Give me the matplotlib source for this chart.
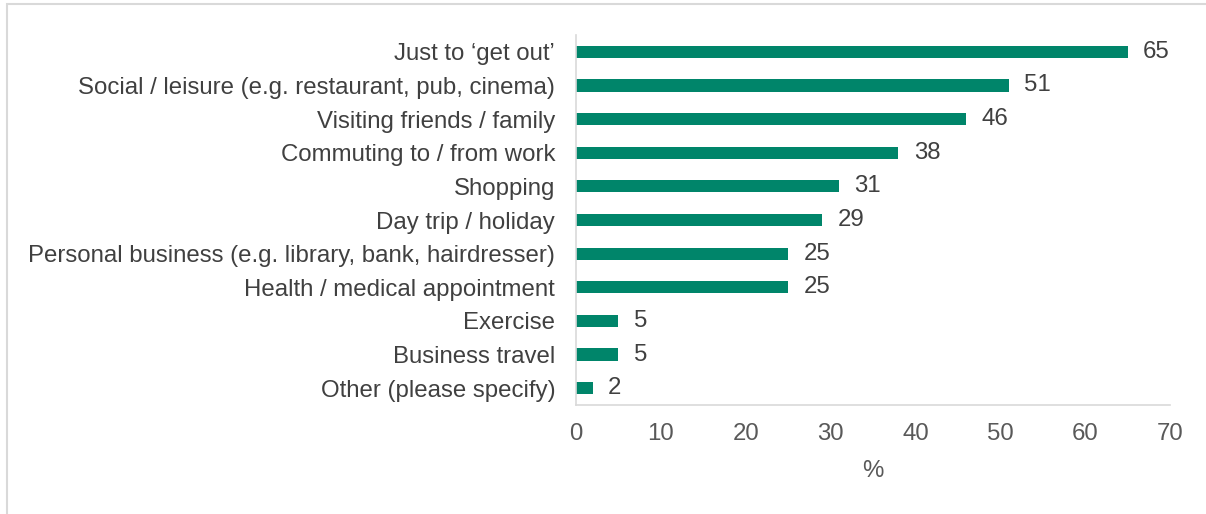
import matplotlib
matplotlib.use("Agg")
import matplotlib.pyplot as plt
from matplotlib.patches import Rectangle

categories = [
    "Just to \u2018get out\u2019",
    "Social / leisure (e.g. restaurant, pub, cinema)",
    "Visiting friends / family",
    "Commuting to / from work",
    "Shopping",
    "Day trip / holiday",
    "Personal business (e.g. library, bank, hairdresser)",
    "Health / medical appointment",
    "Exercise",
    "Business travel",
    "Other (please specify)",
]
values = [65, 51, 46, 38, 31, 29, 25, 25, 5, 5, 2]
xticks = [0, 10, 20, 30, 40, 50, 60, 70]

plt.rcParams['font.family'] = ['Liberation Sans', 'DejaVu Sans']
FS = 17.3

fig = plt.figure(figsize=(12.06, 5.14), dpi=100)
ax = fig.add_axes([576/1206, 1-405/514, (1170-576)/1206, (405-35)/514])

ypos = list(range(len(categories)))
ax.barh(ypos, values, height=0.36, color='#00856A')
for y, v in zip(ypos, values):
    ax.text(v + 1.8, y, str(v), va='center', ha='left', fontsize=FS, color='#404040')

ax.set_ylim(len(categories) - 0.5, -0.5)
ax.set_xlim(0, 70)
ax.set_yticks(ypos)
ax.set_yticklabels(categories, fontsize=FS, color='#404040')
ax.set_xticks(xticks)
ax.set_xticklabels([str(t) for t in xticks], fontsize=FS, color='#595959')
ax.tick_params(axis='both', length=0)
ax.tick_params(axis='y', pad=15)
ax.tick_params(axis='x', pad=13)
ax.set_xlabel('%', fontsize=FS, color='#595959', labelpad=11)

for s in ['top', 'right']:
    ax.spines[s].set_visible(False)
for s in ['left', 'bottom']:
    ax.spines[s].set_color('#D9D9D9')
    ax.spines[s].set_linewidth(1.2)

# figure border (partially visible)
fig.patches.append(Rectangle((7/1206, -0.1), 1.2, 1.1 - 4/514,
                             transform=fig.transFigure, fill=False,
                             edgecolor='#D9D9D9', linewidth=1.5))

fig.savefig('out.png', dpi=100)
